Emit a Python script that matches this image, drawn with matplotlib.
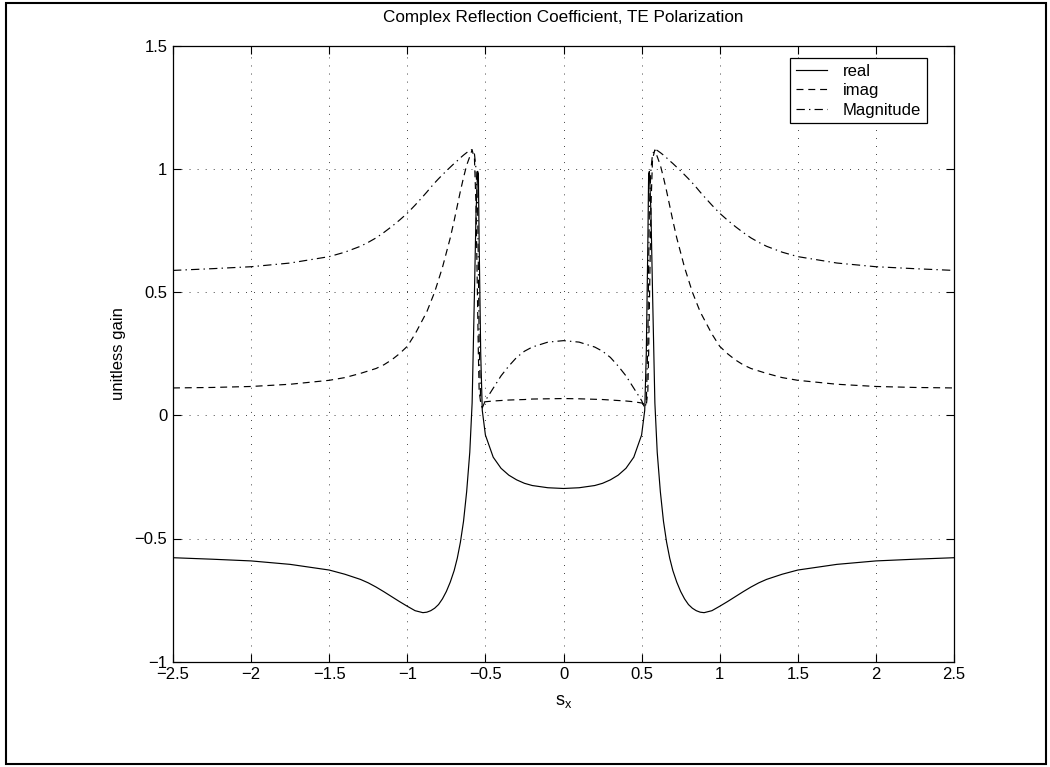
import matplotlib
matplotlib.use("Agg")
import matplotlib.pyplot as plt
from matplotlib.patches import Rectangle

plt.rcParams['font.family'] = ['Liberation Sans', 'DejaVu Sans']
plt.rcParams['lines.scale_dashes'] = False

# Complex TE reflection coefficient versus normalized transverse wavenumber s_x
s_x = [-2.5, -2.25, -2.0, -1.75, -1.5, -1.4, -1.3, -1.25, -1.2, -1.15, -1.1, -1.05,
       -1.0, -0.95, -0.9, -0.875, -0.85, -0.825, -0.8, -0.775, -0.75, -0.725, -0.7,
       -0.68, -0.66, -0.64, -0.62, -0.6, -0.585, -0.57, -0.56, -0.55, -0.545,
       -0.54, -0.53, -0.52, -0.5, -0.45, -0.4, -0.35, -0.3, -0.25, -0.2, -0.1, 0.0,
       0.1, 0.2, 0.25, 0.3, 0.35, 0.4, 0.45, 0.5, 0.52, 0.53, 0.54, 0.545, 0.55,
       0.56, 0.57, 0.585, 0.6, 0.62, 0.64, 0.66, 0.68, 0.7, 0.725, 0.75, 0.775,
       0.8, 0.825, 0.85, 0.875, 0.9, 0.95, 1.0, 1.05, 1.1, 1.15, 1.2, 1.25, 1.3,
       1.4, 1.5, 1.75, 2.0, 2.25, 2.5]

real_part = [-0.578, -0.584, -0.591, -0.605, -0.628, -0.645, -0.666, -0.680, -0.697,
             -0.716, -0.736, -0.756, -0.775, -0.793, -0.801, -0.799, -0.793, -0.783,
             -0.768, -0.745, -0.715, -0.677, -0.630, -0.580, -0.515, -0.430, -0.310,
             -0.150, 0.05, 0.50, 0.82, 0.99, 0.98, 0.70, 0.25, 0.02, -0.08, -0.17,
             -0.215, -0.243, -0.262, -0.276, -0.285, -0.294, -0.297,
             -0.294, -0.285, -0.276, -0.262, -0.243, -0.215, -0.17, -0.08, 0.02, 0.25,
             0.70, 0.98, 0.99, 0.82, 0.50, 0.05, -0.150, -0.310, -0.430, -0.515,
             -0.580, -0.630, -0.677, -0.715, -0.745, -0.768, -0.783, -0.793, -0.799,
             -0.801, -0.793, -0.775, -0.756, -0.736, -0.716, -0.697, -0.680, -0.666,
             -0.645, -0.628, -0.605, -0.591, -0.584, -0.578]

imag_part = [0.111, 0.113, 0.117, 0.126, 0.142, 0.153, 0.170, 0.180, 0.190, 0.205,
             0.225, 0.250, 0.280, 0.330, 0.390, 0.420, 0.460, 0.500, 0.550, 0.600,
             0.660, 0.720, 0.790, 0.850, 0.910, 0.965, 1.015, 1.050, 1.077, 1.040,
             0.850, 0.450, 0.250, 0.100, 0.050, 0.052, 0.055, 0.058, 0.060, 0.062,
             0.063, 0.064, 0.066, 0.067, 0.068,
             0.067, 0.065, 0.064, 0.062, 0.060, 0.058, 0.055, 0.050, 0.045, 0.040,
             0.100, 0.250, 0.450, 0.850, 1.040, 1.077, 1.050, 1.015, 0.965, 0.910,
             0.850, 0.790, 0.720, 0.660, 0.600, 0.550, 0.500, 0.460, 0.420, 0.390,
             0.330, 0.280, 0.250, 0.225, 0.205, 0.190, 0.180, 0.170, 0.153, 0.142,
             0.126, 0.117, 0.113, 0.111]

magnitude = [0.588, 0.595, 0.603, 0.618, 0.644, 0.662, 0.686, 0.702, 0.720, 0.742,
             0.766, 0.792, 0.820, 0.853, 0.888, 0.906, 0.925, 0.943, 0.960, 0.976,
             0.992, 1.007, 1.022, 1.033, 1.045, 1.056, 1.066, 1.075, 1.078, 1.060,
             1.000, 0.850, 0.600, 0.300, 0.050, 0.030, 0.060, 0.110, 0.160, 0.200,
             0.235, 0.260, 0.277, 0.297, 0.303,
             0.297, 0.277, 0.260, 0.235, 0.200, 0.160, 0.110, 0.060, 0.030, 0.050,
             0.300, 0.600, 0.850, 1.000, 1.060, 1.078, 1.075, 1.066, 1.056, 1.045,
             1.033, 1.022, 1.007, 0.992, 0.976, 0.960, 0.943, 0.925, 0.906, 0.888,
             0.853, 0.820, 0.792, 0.766, 0.742, 0.720, 0.702, 0.686, 0.662, 0.644,
             0.618, 0.603, 0.595, 0.588]

x_ticks = [-2.5, -2, -1.5, -1, -0.5, 0, 0.5, 1, 1.5, 2, 2.5]
x_tick_labels = ['\u22122.5', '\u22122', '\u22121.5', '\u22121', '\u22120.5', '0',
                 '0.5', '1', '1.5', '2', '2.5']
y_ticks = [-1, -0.5, 0, 0.5, 1, 1.5]
y_tick_labels = ['\u22121', '\u22120.5', '0', '0.5', '1', '1.5']

W, H = 1050, 767
fig = plt.figure(figsize=(W / 100, H / 100), dpi=100)
ax = fig.add_axes([173 / W, (H - 661.7) / H, (954 - 173) / W, 616 / H])

lw = 0.85
ax.plot(s_x, real_part, color='black', lw=lw, label='real')
ax.plot(s_x, imag_part, color='black', lw=lw, dashes=(5.0, 3.5), label='imag')
ax.plot(s_x, magnitude, color='black', lw=lw, dashes=(6.0, 3.0, 1.0, 3.0),
        label='Magnitude')

ax.set_xlim(-2.5, 2.5)
ax.set_ylim(-1, 1.5)
ax.set_xticks(x_ticks)
ax.set_xticklabels(x_tick_labels)
ax.set_yticks(y_ticks)
ax.set_yticklabels(y_tick_labels)
ax.tick_params(direction='in', length=5.5, width=0.8, top=True, right=True,
               labelsize=12, pad=4, colors='black')
for sp in ax.spines.values():
    sp.set_linewidth(0.9)

ax.grid(True, color='black', lw=0.6, dashes=(0.6, 5.2))

ax.set_title('Complex Reflection Coefficient, TE Polarization', fontsize=12.3, pad=17)
ax.set_xlabel(r'$\mathregular{s_x}$', fontsize=13, labelpad=8)
ax.set_ylabel('unitless gain', fontsize=12, labelpad=6)

leg = ax.legend(loc='upper right', bbox_to_anchor=(0.965, 0.9795), fancybox=False,
                edgecolor='black', framealpha=1, fontsize=12, handlelength=1.9,
                handletextpad=0.95, borderpad=0.32, labelspacing=0.28,
                borderaxespad=0)
leg.get_frame().set_linewidth(0.9)

# outer frame around the whole figure
fig.patches.append(Rectangle((6 / W, 3 / H), 1040 / W, 761 / H, transform=fig.transFigure,
                             fill=False, edgecolor='black', lw=1.5))

fig.savefig('out.png', dpi=100)
